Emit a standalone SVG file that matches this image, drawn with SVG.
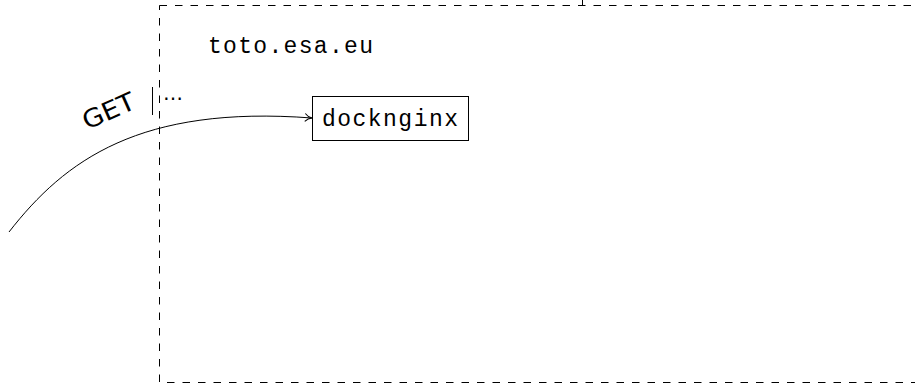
<svg xmlns="http://www.w3.org/2000/svg" width="915" height="384" viewBox="0 0 915 384">
<defs>
<style>
.mono{font-family:"Liberation Mono","DejaVu Sans Mono",monospace;font-size:23px;fill:#000}
.sans{font-family:"DejaVu Sans","Liberation Sans",sans-serif;fill:#000}
.line{fill:none;stroke:#000;stroke-width:1}
</style>
<marker id="to" viewBox="0 0 10 10" refX="9" refY="5" markerWidth="10" markerHeight="10" markerUnits="userSpaceOnUse" orient="auto">
<path d="M2,1 Q5,4.5 9,5 Q5,5.5 2,9" fill="none" stroke="#000" stroke-width="1"/>
</marker>
</defs>
<g id="host">
<rect x="159.5" y="5.5" width="780" height="377" fill="none" stroke="#000" stroke-width="1" stroke-dasharray="7.5 8"/>
<line x1="582.5" y1="0" x2="582.5" y2="5" stroke="#000" stroke-width="1"/>
<text class="mono" x="208" y="53" textLength="165" lengthAdjust="spacing">toto.esa.eu</text>
</g>
<g id="docknginx">
<rect x="312.5" y="96.5" width="156" height="44" fill="#fff" stroke="#000" stroke-width="1"/>
<text class="mono" x="322" y="126" textLength="136" lengthAdjust="spacing">docknginx</text>
</g>
<g id="connectors">
<path class="line" d="M9,232 C65,160 140,105 312,118" marker-end="url(#to)"/>
<text class="sans" font-size="25" transform="translate(87,130) rotate(-24)" textLength="55" lengthAdjust="spacingAndGlyphs">GET</text>
<line x1="152.5" y1="87" x2="152.5" y2="115" stroke="#000" stroke-width="1"/>
<text class="sans" font-size="20" x="163" y="100">…</text>
</g>
</svg>
